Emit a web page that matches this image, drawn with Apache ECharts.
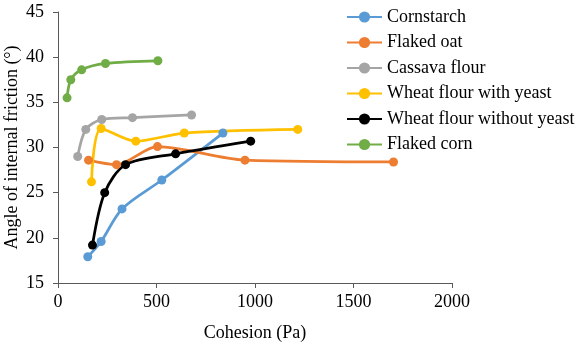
<!DOCTYPE html>
<html>
<head>
<meta charset="utf-8">
<script src="https://cdn.jsdelivr.net/npm/echarts@6/dist/echarts.min.js"></script>
<style>
  html, body { margin: 0; padding: 0; background: #fff; }
  #chart { width: 585px; height: 345px; }
</style>
</head>
<body>
<div id="chart"></div>
<script>
var chart = echarts.init(document.getElementById('chart'));

// values: [cohesion (Pa), angle (deg)]
var cornstarch = [[151, 17.9], [219, 19.6], [325, 23.2], [527, 26.4], [837, 31.6]];
var flakedOat = [[155, 28.6], [297, 28.1], [505, 30.1], [949, 28.6], [1703, 28.4]];
var cassava = [[100, 29.0], [141, 32.0], [222, 33.1], [378, 33.3], [678, 33.6]];
var wheatYeast = [[170, 26.2], [219, 32.1], [395, 30.7], [641, 31.6], [1217, 32.0]];
var wheatNoYeast = [[175, 19.2], [237, 25.0], [343, 28.1], [597, 29.3], [978, 30.7]];
var flakedCorn = [[46, 35.5], [65, 37.5], [120, 38.6], [241, 39.3], [507, 39.6]];

var names = ['Cornstarch', 'Flaked oat', 'Cassava flour', 'Wheat flour with yeast', 'Wheat flour without yeast', 'Flaked corn'];
var colors = ['#5B9BD5', '#ED7D31', '#A5A5A5', '#FFC000', '#000000', '#70AD47'];
var allData = [cornstarch, flakedOat, cassava, wheatYeast, wheatNoYeast, flakedCorn];

var font = 'Liberation Serif';

var series = allData.map(function (d, i) {
    return {
        name: names[i],
        type: 'line',
        data: d,
        smooth: 0.3,
        symbol: 'circle',
        symbolSize: 9,
        lineStyle: { width: 2.75, color: colors[i] },
        itemStyle: { color: colors[i] }
    };
});

var option = {
    animation: false,
    color: colors,
    grid: { left: 58, right: 133, top: 12, bottom: 62, outerBoundsMode: 'none' },
    legend: {
        orient: 'vertical',
        left: 341,
        top: 3,
        itemWidth: 35,
        itemHeight: 14,
        itemGap: 7.5,
        textStyle: { fontFamily: font, fontSize: 18, color: '#000' },
        data: names
    },
    xAxis: {
        type: 'value',
        min: 0,
        max: 2000,
        interval: 500,
        name: 'Cohesion (Pa)',
        nameLocation: 'middle',
        nameGap: 41,
        nameMoveOverlap: false,
        nameTextStyle: { fontFamily: font, fontSize: 18, color: '#000' },
        axisLine: { lineStyle: { color: '#595959', width: 1 } },
        axisTick: { show: true, length: 5, lineStyle: { color: '#595959' } },
        axisLabel: {
            fontFamily: font, fontSize: 18, color: '#000', margin: 10,
            formatter: function (v) { return String(v); }
        },
        splitLine: { show: false }
    },
    yAxis: {
        type: 'value',
        min: 15,
        max: 45,
        interval: 5,
        name: 'Angle of internal friction (°)',
        nameLocation: 'middle',
        nameGap: 37,
        nameMoveOverlap: false,
        nameTextStyle: { fontFamily: font, fontSize: 18, color: '#000' },
        axisLine: { show: true, lineStyle: { color: '#595959', width: 1 } },
        axisTick: { show: true, length: 5, lineStyle: { color: '#595959' } },
        axisLabel: { fontFamily: font, fontSize: 18, color: '#000', margin: 14 },
        splitLine: { show: false }
    },
    series: series
};

chart.setOption(option);
window.onresize = chart.resize;
</script>
</body>
</html>
